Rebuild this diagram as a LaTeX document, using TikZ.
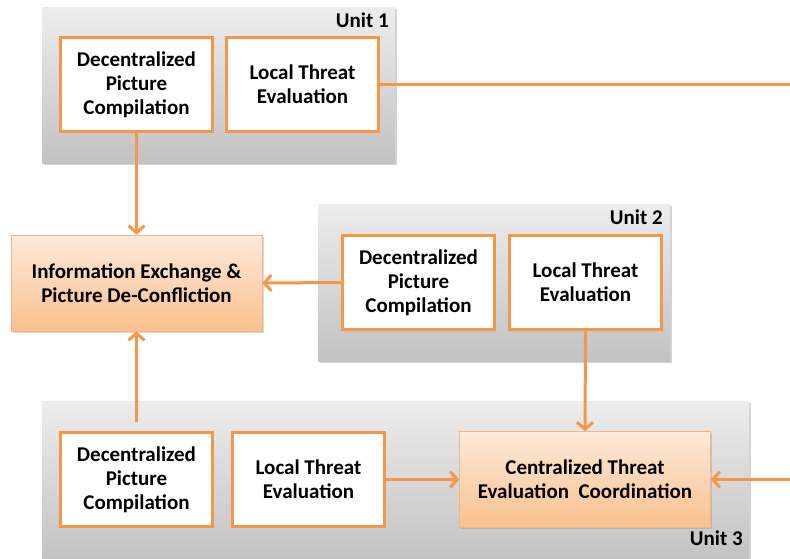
\documentclass[tikz,border=0pt]{standalone}
\usepackage{fontspec}
\setmainfont{Carlito}
\usetikzlibrary{arrows.meta,shadows,positioning}
\definecolor{accent}{HTML}{F79646}
\definecolor{peachtop}{HTML}{FDEADA}
\definecolor{peachbot}{HTML}{FAC08F}
\definecolor{greytop}{HTML}{EDEDED}
\definecolor{greybot}{HTML}{C2C2C2}
\tikzset{
  unitbox/.style={top color=greytop,bottom color=greybot,draw=none,
    drop shadow={shadow xshift=1.5pt,shadow yshift=-1.5pt,opacity=0.35}},
  taskbox/.style={draw=accent,line width=3.5pt,fill=white,minimum width=152pt,
    minimum height=94pt,align=center,font=\bfseries\fontsize{21}{24}\selectfont},
  hubbox/.style={top color=peachtop,bottom color=peachbot,draw=accent!70,line width=0.6pt,
    minimum width=251pt,minimum height=96pt,align=center,
    font=\bfseries\fontsize{21}{24}\selectfont,
    drop shadow={shadow xshift=1.5pt,shadow yshift=-1.5pt,opacity=0.3}},
  unitlabel/.style={font=\bfseries\fontsize{21}{24}\selectfont,anchor=north east,inner sep=0pt},
  flow/.style={draw=accent,line width=3pt,
    -{Straight Barb[length=7pt,width=16pt,line width=3pt]}},
  link/.style={draw=accent,line width=3pt}
}
\begin{document}
\begin{tikzpicture}[x=1pt,y=-1pt]
\useasboundingbox (0,0) rectangle (790,558);

% unit backgrounds
\path[unitbox] (42,7) rectangle (395,163);
\path[unitbox] (318,204) rectangle (670,361);
\path[unitbox] (42,401) rectangle (749,562);
\node[unitlabel] (u1) at (389,13) {Unit 1};
\node[unitlabel] (u2) at (663,210) {Unit 2};
\node[unitlabel] (u3) at (743,531) {Unit 3};

% unit 1
\node[taskbox] (dpc1) at (136.5,84.5) {Decentralized\\Picture\\Compilation};
\node[taskbox] (lte1) at (302.5,84.5) {Local Threat\\Evaluation};
% unit 2
\node[taskbox] (dpc2) at (418.5,282.5) {Decentralized\\Picture\\Compilation};
\node[taskbox] (lte2) at (585.5,282.5) {Local Threat\\Evaluation};
% unit 3
\node[taskbox] (dpc3) at (136.5,479.5) {Decentralized\\Picture\\Compilation};
\node[taskbox] (lte3) at (308.5,479.5) {Local Threat\\Evaluation};

% coordination nodes
\node[hubbox] (info) at (136.5,283) {Information Exchange \&\\Picture De-Confliction};
\node[hubbox] (ctec) at (585,479.5) {Centralized Threat\\Evaluation\ \ Coordination};

% free ends at the right margin
\coordinate (out1) at (790,84.5);
\coordinate (in3) at (790,479.5);

% connectors
\draw[link] (lte1.east) -- (out1);
\draw[flow] (dpc1.south) -- (info.north);
\draw[flow] (dpc2.west) -- (info.east);
\draw[flow,shorten <=9pt] (dpc3.north) -- (info.south);
\draw[flow] (lte2.south) -- (ctec.north);
\draw[flow] (lte3.east) -- (ctec.west);
\draw[flow] (in3) -- (ctec.east);
\end{tikzpicture}
\end{document}
